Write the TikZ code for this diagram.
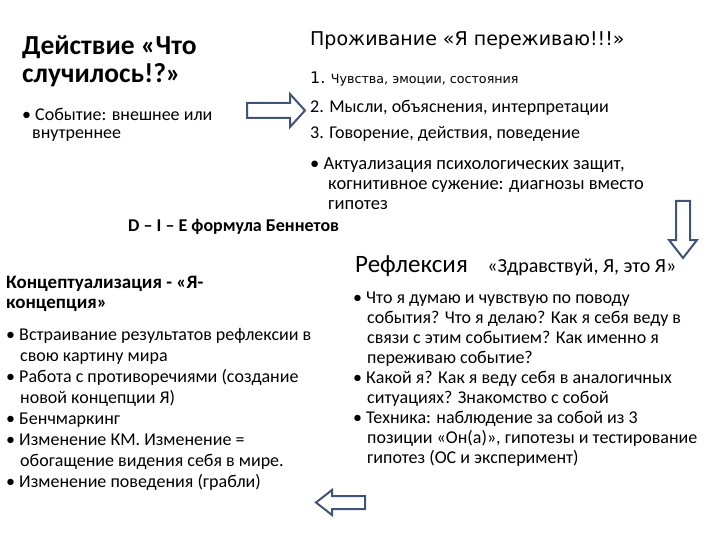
\documentclass[tikz,border=0pt]{standalone}
\usepackage{fontspec}
\setmainfont{Carlito}
\newfontfamily\dv{DejaVu Sans}
\definecolor{arr}{HTML}{3F5477}
\begin{document}
\begin{tikzpicture}[x=1pt,y=-1pt,
 tx/.style={anchor=north west,inner sep=0pt,align=left},
 blk/.style={draw=arr,line width=2pt,fill=white,line join=miter}]
\useasboundingbox (0,0) rectangle (720,540);
\node[tx,font=\fontsize{27.5}{28}\selectfont\bfseries] (t1) at (22,36) {Действие «Что\\случилось!?»};
\node[tx,font=\fontsize{18}{18}\selectfont] (l1) at (22,108) {• Событие: внешнее или\\\hspace*{10pt}внутреннее};
\node[tx,font=\fontsize{19}{22}\selectfont\dv] (t2) at (310,31) {Проживание «Я переживаю!!!»};
\node[tx,font=\fontsize{12.7}{15}\selectfont\dv] (r1) at (310,72) {{\fontsize{16}{15}\selectfont 1.} Чувства, эмоции, состояния};
\node[tx,font=\fontsize{18}{20}\selectfont] (r2) at (310,100) {2. Мысли, объяснения, интерпретации};
\node[tx,font=\fontsize{18}{20}\selectfont] (r3) at (310,126) {3. Говорение, действия, поведение};
\node[tx,font=\fontsize{18.5}{20}\selectfont] (r4) at (310,157) {• Актуализация психологических защит,\\\hspace*{18pt}когнитивное сужение: диагнозы вместо\\\hspace*{18pt}гипотез};
\node[tx,font=\fontsize{18}{20}\selectfont\bfseries] (f) at (128,219) {D – I – E  формула Беннетов};
\node[tx,font=\fontsize{19}{20}\selectfont\bfseries] (c1) at (6,276) {Концептуализация - «Я-\\концепция»};
\node[tx,font=\fontsize{18}{21}\selectfont] (c2) at (6,328) {• Встраивание результатов рефлексии в\\\hspace*{14pt}свою картину мира\\• Работа с противоречиями (создание\\\hspace*{14pt}новой концепции Я)\\• Бенчмаркинг\\• Изменение КМ. Изменение =\\\hspace*{14pt}обогащение видения себя в мире.\\• Изменение поведения (грабли)};
\node[tx,font=\fontsize{25}{28}\selectfont] (rf) at (355,255) {Рефлексия {\fontsize{20}{24}\selectfont\hspace{14pt}«Здравствуй, Я, это Я»}};
\node[tx,font=\fontsize{18}{20}\selectfont] (rt) at (353,292) {• Что я думаю и чувствую по поводу\\\hspace*{14pt}события? Что я делаю? Как я себя веду в\\\hspace*{14pt}связи с этим событием? Как именно я\\\hspace*{14pt}переживаю событие?\\• Какой я?  Как я веду себя в аналогичных\\\hspace*{14pt}ситуациях? Знакомство с собой\\• Техника: наблюдение за собой из 3\\\hspace*{14pt}позиции «Он(а)», гипотезы и тестирование\\\hspace*{14pt}гипотез (ОС и эксперимент)};
\draw[blk] (247,103) -- (290,103) -- (290,94) -- (305,110.5) -- (290,127) -- (290,118) -- (247,118) -- cycle;
\draw[blk] (676,201) -- (690,201) -- (690,240) -- (697,240) -- (683,258) -- (669,240) -- (676,240) -- cycle;
\draw[blk] (365,496) -- (332,496) -- (332,490) -- (316,502.5) -- (332,515) -- (332,509) -- (365,509) -- cycle;
\end{tikzpicture}
\end{document}
